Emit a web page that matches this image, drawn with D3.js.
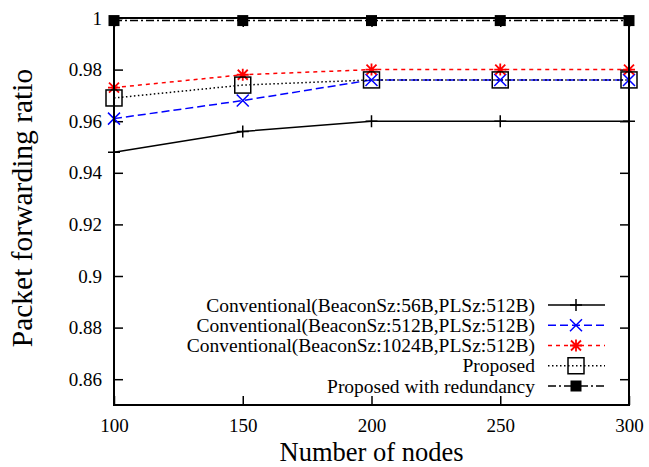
<!DOCTYPE html>
<html>
<head>
<meta charset="utf-8">
<script src="https://cdn.jsdelivr.net/npm/d3@7"></script>
<style>
body { margin: 0; background: #fff; }
text { font-family: "Liberation Serif", "Times New Roman", serif; fill: #000; }
</style>
</head>
<body>
<script>
// data
var nodes = [100, 150, 200, 250, 300];
var conv56 = [0.948, 0.956, 0.960, 0.960, 0.960];
var conv512 = [0.961, 0.968, 0.976, 0.976, 0.976];
var conv1024 = [0.973, 0.978, 0.980, 0.980, 0.980];
var proposed = [0.969, 0.974, 0.976, 0.976, 0.976];
var proposedRed = [0.999, 0.999, 0.999, 0.999, 0.999];
var yTicks = [0.86, 0.88, 0.9, 0.92, 0.94, 0.96, 0.98, 1];
var seriesNames = [
  "Conventional(BeaconSz:56B,PLSz:512B)",
  "Conventional(BeaconSz:512B,PLSz:512B)",
  "Conventional(BeaconSz:1024B,PLSz:512B)",
  "Proposed",
  "Proposed with redundancy"
];

var series = [
  { name: seriesNames[0], values: conv56, color: "#000", dash: null, marker: "plus" },
  { name: seriesNames[1], values: conv512, color: "#0000ff", dash: "8,4", marker: "cross" },
  { name: seriesNames[2], values: conv1024, color: "#ff0000", dash: "4,4", marker: "star" },
  { name: seriesNames[3], values: proposed, color: "#000", dash: "1.5,2.5", marker: "box" },
  { name: seriesNames[4], values: proposedRed, color: "#000", dash: "8,3,2,3", marker: "fbox" }
];

var margin = {top: 18, right: 20, bottom: 62, left: 114};
var W = 649, H = 467;
var width = W - margin.left - margin.right;
var height = H - margin.top - margin.bottom;

var xScale = d3.scaleLinear().domain([100, 300]).range([0, width]);
var yScale = d3.scaleLinear().domain([0.85, 1]).range([height, 0]);

var svg = d3.select("body").append("svg")
    .attr("width", W)
    .attr("height", H)
  .append("g")
    .attr("transform", "translate(" + margin.left + "," + margin.top + ")");

// axes (ticks pointing inward, mirrored)
var tk = 9;
var xAxis = svg.append("g")
    .attr("transform", "translate(0," + height + ")")
    .call(d3.axisBottom(xScale).tickValues(nodes).tickSize(-tk).tickPadding(14).tickFormat(d3.format("d")));
var xTop = svg.append("g")
    .call(d3.axisTop(xScale).tickValues(nodes).tickSize(-tk).tickFormat(""));
var yAxis = svg.append("g")
    .call(d3.axisLeft(yScale).tickValues(yTicks).tickSize(-tk).tickPadding(12).tickFormat(function(d) { return String(+d.toFixed(2)); }));
var yRight = svg.append("g")
    .attr("transform", "translate(" + width + ",0)")
    .call(d3.axisRight(yScale).tickValues(yTicks).tickSize(-tk).tickFormat(""));

[xAxis, xTop, yAxis, yRight].forEach(function(a) {
  a.select(".domain").remove();
  a.selectAll("line").attr("stroke", "#000").attr("stroke-width", 1.5);
  a.selectAll("text").style("font-size", "19px").style("font-family", "Liberation Serif");
});

var line = d3.line()
  .x(function(d, i) { return xScale(nodes[i]); })
  .y(function(d) { return yScale(d); })
  .curve(d3.curveLinear);

function drawMarker(g, type, color, cx, cy) {
  var m = g.append("g").attr("transform", "translate(" + cx + "," + cy + ")");
  if (type === "plus") {
    m.append("path").attr("d", "M-6,0H6M0,-6V6").attr("stroke", color).attr("stroke-width", 1.5);
  } else if (type === "cross") {
    m.append("path").attr("d", "M-6,-6L6,6M-6,6L6,-6").attr("stroke", color).attr("stroke-width", 1.5);
  } else if (type === "star") {
    m.append("path").attr("d", "M-6,0H6M0,-6V6M-5,-5L5,5M-5,5L5,-5").attr("stroke", color).attr("stroke-width", 1.8);
  } else if (type === "box") {
    m.append("rect").attr("x", -8).attr("y", -8).attr("width", 16).attr("height", 16)
      .attr("fill", "none").attr("stroke", color).attr("stroke-width", 1.5);
  } else if (type === "fbox") {
    m.append("rect").attr("x", -5.5).attr("y", -5.5).attr("width", 11).attr("height", 11).attr("fill", color);
  }
}

series.forEach(function(s) {
  svg.append("path")
    .datum(s.values)
    .attr("fill", "none")
    .attr("stroke", s.color)
    .attr("stroke-width", 1.5)
    .attr("stroke-dasharray", s.dash)
    .attr("d", line);
});
series.forEach(function(s) {
  s.values.forEach(function(v, i) {
    drawMarker(svg, s.marker, s.color, xScale(nodes[i]), yScale(v));
  });
});

// frame
svg.append("rect")
  .attr("width", width).attr("height", height)
  .attr("fill", "none").attr("stroke", "#000").attr("stroke-width", 2);

// legend
var lg = svg.append("g").attr("transform", "translate(" + (535 - margin.left) + "," + (305 - margin.top) + ")");
series.forEach(function(s, i) {
  var row = lg.append("g").attr("transform", "translate(0," + (i * 20.25) + ")");
  row.append("text").attr("x", 0).attr("y", 6.5).attr("text-anchor", "end")
    .style("font-size", "19.5px").text(s.name);
  row.append("line").attr("x1", 13).attr("x2", 70).attr("y1", 0).attr("y2", 0)
    .attr("stroke", s.color).attr("stroke-width", 1.5).attr("stroke-dasharray", s.dash);
  drawMarker(row, s.marker, s.color, 41, 0);
});

// axis titles
svg.append("text")
  .attr("x", width / 2).attr("y", height + 56)
  .attr("text-anchor", "middle").style("font-size", "26.5px")
  .text("Number of nodes");
svg.append("text")
  .attr("transform", "translate(" + (-82) + "," + (190) + ") rotate(-90)")
  .attr("text-anchor", "middle").style("font-size", "29.5px")
  .text("Packet forwarding ratio");
</script>
</body>
</html>
